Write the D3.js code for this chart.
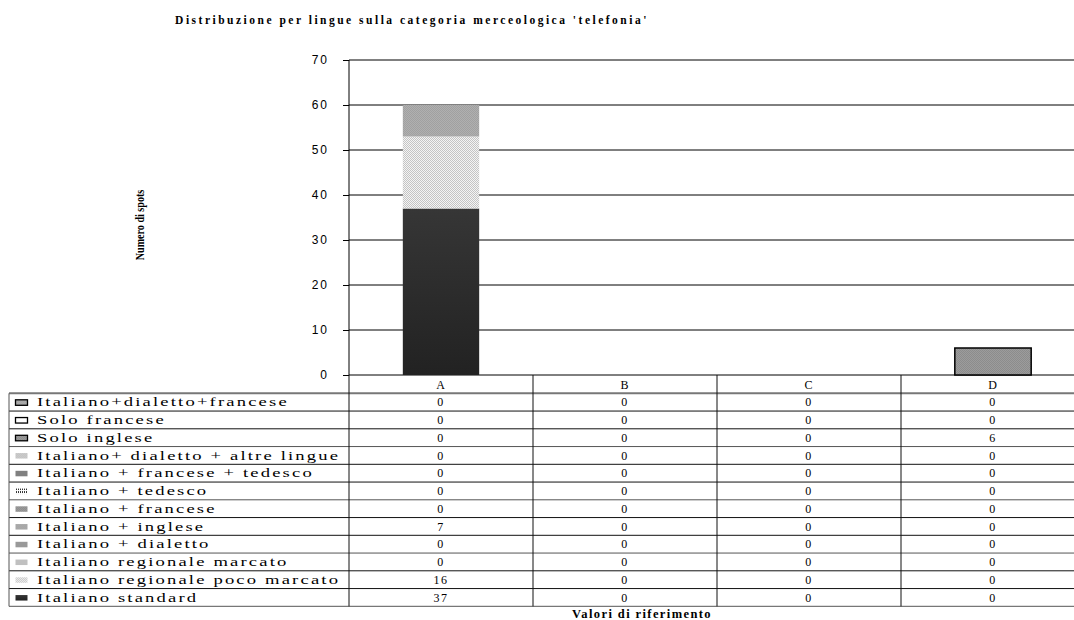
<!DOCTYPE html>
<html>
<head>
<meta charset="utf-8">
<script src="https://cdn.jsdelivr.net/npm/d3@7"></script>
<style>
    body { margin: 0; background: #fff; }
    svg { display: block; font-family: "Liberation Serif", "Times New Roman", serif; }
    .tick line { stroke: #000; }
    .tick text { font-size: 12px; letter-spacing: 2px; fill: #000; }
</style>
</head>
<body>
<div id="chart"></div>
<script>
// Data
const categories = ['A', 'B', 'C', 'D'];
const seriesNames = [
    'Italiano+dialetto+francese',
    'Solo francese',
    'Solo inglese',
    'Italiano+ dialetto + altre lingue',
    'Italiano + francese + tedesco',
    'Italiano + tedesco',
    'Italiano + francese',
    'Italiano + inglese',
    'Italiano + dialetto',
    'Italiano regionale marcato',
    'Italiano regionale poco marcato',
    'Italiano standard'
];
// one array per category, in the table order (top to bottom)
const valuesA = [0, 0, 0, 0, 0, 0, 0, 7, 0, 0, 16, 37];
const valuesB = [0, 0, 0, 0, 0, 0, 0, 0, 0, 0, 0, 0];
const valuesC = [0, 0, 0, 0, 0, 0, 0, 0, 0, 0, 0, 0];
const valuesD = [0, 0, 6, 0, 0, 0, 0, 0, 0, 0, 0, 0];
const yTicks = [0, 10, 20, 30, 40, 50, 60, 70];

const title = "Distribuzione per lingue sulla categoria merceologica 'telefonia'";
const yTitle = 'Numero di spots';
const xTitle = 'Valori di riferimento';

// fills per series (pattern ids or colours)
const seriesFill = [
    'url(#p-dots-mid)', '#fff', 'url(#p-dots-dark)', 'url(#p-dots-light)',
    '#808080', 'url(#p-vstripe)', 'url(#p-dots-dark)', 'url(#p-dots-mid)',
    '#999', '#c0c0c0', 'url(#p-checker)', 'url(#g-dark)'
];
const seriesStroke = [
    '#000', '#000', '#000', 'none', 'none', 'none', 'none', 'none',
    'none', 'none', 'none', 'none'
];

const columns = [valuesA, valuesB, valuesC, valuesD];

const W = 1074, H = 620;
const plot = {left: 349, right: 1085, top: 60, bottom: 375};
const tableLeft = 9;
const headerH = 18.3;
const rowH = 17.75;

const svg = d3.select('#chart').append('svg')
    .attr('width', W)
    .attr('height', H);

// Patterns
const defs = svg.append('defs');

function dotPattern(id, bg, fg, size) {
    const p = defs.append('pattern')
        .attr('id', id)
        .attr('patternUnits', 'userSpaceOnUse')
        .attr('width', size).attr('height', size);
    p.append('rect').attr('width', size).attr('height', size).attr('fill', bg);
    p.append('rect').attr('width', 1).attr('height', 1).attr('fill', fg);
    p.append('rect').attr('x', size / 2).attr('y', size / 2).attr('width', 1).attr('height', 1).attr('fill', fg);
}
dotPattern('p-dots-mid', '#b0b0b0', '#a0a0a0', 2);
dotPattern('p-dots-dark', '#9c9c9c', '#8c8c8c', 2);
dotPattern('p-dots-light', '#e6e6e6', '#a8a8a8', 2);
dotPattern('p-checker', '#f4f4f4', '#c4c4c4', 2);

const vs = defs.append('pattern')
    .attr('id', 'p-vstripe')
    .attr('patternUnits', 'userSpaceOnUse')
    .attr('width', 2).attr('height', 3);
vs.append('rect').attr('width', 2).attr('height', 3).attr('fill', '#fff');
vs.append('rect').attr('width', 1).attr('height', 2).attr('fill', '#333');

const grad = defs.append('linearGradient')
    .attr('id', 'g-dark')
    .attr('x1', 0).attr('y1', 0).attr('x2', 0).attr('y2', 1);
grad.append('stop').attr('offset', '0%').attr('stop-color', '#363636');
grad.append('stop').attr('offset', '100%').attr('stop-color', '#222');

// Scales
const x = d3.scaleBand()
    .domain(categories)
    .range([plot.left, plot.right]);

const y = d3.scaleLinear()
    .domain([0, 70])
    .range([plot.bottom, plot.top]);

const barW = x.bandwidth() * 0.415;

// Grid
svg.append('g')
    .selectAll('line')
    .data(yTicks)
    .join('line')
    .attr('x1', plot.left).attr('x2', plot.right)
    .attr('y1', d => y(d)).attr('y2', d => y(d))
    .attr('stroke', '#000')
    .attr('stroke-width', 1);

// Stacked bars (bottom = last series)
const stackData = categories.map((c, ci) => {
    const row = {cat: c};
    seriesNames.forEach((s, si) => row[s] = columns[ci][si]);
    return row;
});
const stack = d3.stack().keys(seriesNames.slice().reverse());
const layers = stack(stackData);

layers.forEach(layer => {
    const si = seriesNames.indexOf(layer.key);
    svg.append('g')
        .selectAll('rect')
        .data(layer.filter(d => d[1] - d[0] > 0))
        .join('rect')
        .attr('x', d => x(d.data.cat) + (x.bandwidth() - barW) / 2)
        .attr('y', d => y(d[1]))
        .attr('width', barW)
        .attr('height', d => y(d[0]) - y(d[1]))
        .attr('fill', seriesFill[si])
        .attr('stroke', seriesStroke[si])
        .attr('stroke-width', 1.5);
});

// Y axis
const yAxis = svg.append('g')
    .attr('transform', `translate(${plot.left},0)`)
    .call(d3.axisLeft(y).tickValues(yTicks).tickSize(6).tickPadding(14));
yAxis.select('.domain').remove();

svg.append('line')
    .attr('x1', plot.left).attr('x2', plot.left)
    .attr('y1', plot.top).attr('y2', plot.bottom)
    .attr('stroke', '#000');

// Data table
const table = svg.append('g').attr('class', 'table');
const rowsTop = plot.bottom + headerH;
const tableBottom = rowsTop + rowH * seriesNames.length;

// header cells
table.selectAll('text.head')
    .data(categories)
    .join('text')
    .attr('class', 'head')
    .attr('x', d => x(d) + x.bandwidth() / 2)
    .attr('y', plot.bottom + 13.5)
    .attr('text-anchor', 'middle')
    .style('font-size', '12px')
    .style('letter-spacing', '1px')
    .text(d => d);

// horizontal row lines
const rowLines = d3.range(seriesNames.length + 1).map(i => rowsTop + i * rowH);
table.selectAll('line.row')
    .data(rowLines)
    .join('line')
    .attr('x1', tableLeft).attr('x2', plot.right)
    .attr('y1', d => d).attr('y2', d => d)
    .attr('stroke', (d, i) => i === 0 ? '#777' : (i % 3 === 0 ? '#555' : '#111'))
    .attr('stroke-width', (d, i) => i === 0 ? 2 : 1);

// vertical column lines
const colEdges = categories.map(c => x(c)).concat([plot.right]);
table.selectAll('line.col')
    .data(colEdges)
    .join('line')
    .attr('x1', d => d).attr('x2', d => d)
    .attr('y1', plot.bottom).attr('y2', tableBottom)
    .attr('stroke', '#111');

table.append('line')
    .attr('x1', tableLeft).attr('x2', tableLeft)
    .attr('y1', rowsTop).attr('y2', tableBottom)
    .attr('stroke', '#555');

// legend labels with swatches
const rows = table.selectAll('g.row')
    .data(seriesNames)
    .join('g')
    .attr('transform', (d, i) => `translate(0,${rowsTop + i * rowH})`);

rows.append('rect')
    .attr('x', 15.5).attr('y', 6.5)
    .attr('width', 12).attr('height', 5.5)
    .attr('fill', (d, i) => seriesFill[i])
    .attr('stroke', (d, i) => seriesStroke[i])
    .attr('stroke-width', 1.3);

rows.append('text')
    .attr('transform', 'translate(37,13) scale(1.55,1)')
    .style('font-size', '12px')
    .style('letter-spacing', '1.4px')
    .text(d => d);

// values
rows.each(function(name, si) {
    d3.select(this).selectAll('text.val')
        .data(categories)
        .join('text')
        .attr('class', 'val')
        .attr('x', c => x(c) + x.bandwidth() / 2)
        .attr('y', 13)
        .attr('text-anchor', 'middle')
        .style('font-size', '12px')
        .style('letter-spacing', '1.5px')
        .text((c, ci) => columns[ci][si]);
});

// Titles
svg.append('text')
    .attr('x', 412)
    .attr('y', 24)
    .attr('text-anchor', 'middle')
    .style('font-size', '11.5px')
    .style('font-weight', 'bold')
    .style('letter-spacing', '2.5px')
    .text(title);

svg.append('text')
    .attr('transform', 'translate(144,225) rotate(-90) scale(0.92,1.15)')
    .attr('text-anchor', 'middle')
    .style('font-size', '11px')
    .style('font-weight', 'bold')
    .text(yTitle);

svg.append('text')
    .attr('x', 642)
    .attr('y', 618)
    .attr('text-anchor', 'middle')
    .style('font-size', '12.5px')
    .style('font-weight', 'bold')
    .style('letter-spacing', '1.4px')
    .text(xTitle);
</script>
</body>
</html>
